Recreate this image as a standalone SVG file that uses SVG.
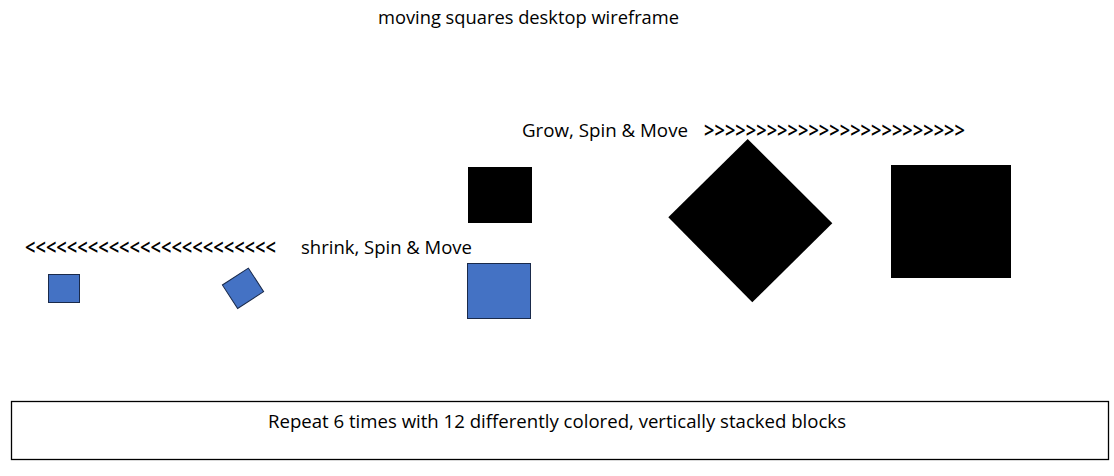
<svg xmlns="http://www.w3.org/2000/svg" width="1114" height="476" viewBox="0 0 1114 476">
<style>
text{font-family:"Open Sans","Liberation Sans",sans-serif;font-size:18px;fill:#000}
.chev{font-size:21px;font-weight:600}
.blue{fill:#4472C4;stroke:#1a2a4a;stroke-width:1}
.black{fill:#000}
</style>
<rect width="1114" height="476" fill="#fff"/>
<g id="title"><text x="378" y="24" textLength="301" lengthAdjust="spacingAndGlyphs">moving squares desktop wireframe</text></g>
<g id="grow-label"><text x="522" y="137" textLength="166" lengthAdjust="spacingAndGlyphs">Grow, Spin &amp; Move</text>
<text class="chev" x="704" y="138" textLength="261" lengthAdjust="spacingAndGlyphs">&gt;&gt;&gt;&gt;&gt;&gt;&gt;&gt;&gt;&gt;&gt;&gt;&gt;&gt;&gt;&gt;&gt;&gt;&gt;&gt;&gt;&gt;&gt;&gt;&gt;</text></g>
<g id="shrink-label"><text class="chev" x="25" y="255" textLength="251" lengthAdjust="spacingAndGlyphs">&lt;&lt;&lt;&lt;&lt;&lt;&lt;&lt;&lt;&lt;&lt;&lt;&lt;&lt;&lt;&lt;&lt;&lt;&lt;&lt;&lt;&lt;&lt;&lt;</text>
<text x="301" y="254" textLength="171" lengthAdjust="spacingAndGlyphs">shrink, Spin &amp; Move</text></g>
<g id="black-small"><rect class="black" x="468" y="167" width="64" height="56"/></g>
<g id="blue-start"><rect class="blue" x="467.5" y="263.5" width="63" height="55"/></g>
<g id="blue-rotated"><rect class="blue" x="-15.5" y="-14" width="31" height="28" transform="translate(243 288.3) rotate(-33)"/></g>
<g id="blue-small"><rect class="blue" x="48.5" y="274.5" width="31" height="28"/></g>
<g id="black-diamond"><polygon class="black" points="747.7,139 832.3,223.3 752.3,302.3 668.3,217.3"/></g>
<g id="black-large"><rect class="black" x="891" y="165" width="120" height="113"/></g>
<g id="connectors"></g>
<g id="repeat-box"><rect x="11.5" y="401.5" width="1097" height="58" fill="#fff" stroke="#000" stroke-width="1.3"/>
<text x="268" y="428" textLength="578" lengthAdjust="spacingAndGlyphs">Repeat 6 times with 12 differently colored, vertically stacked blocks</text></g>
</svg>
